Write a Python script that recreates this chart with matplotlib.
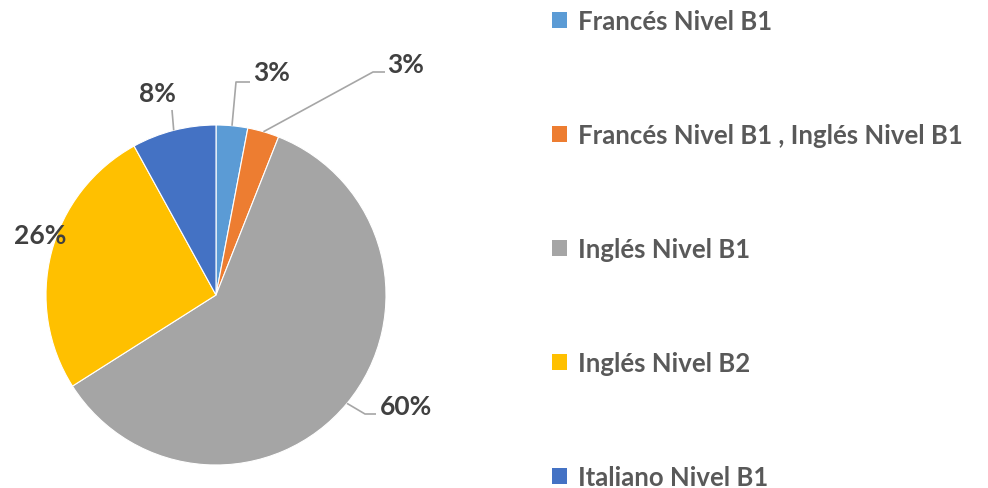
import numpy as np
import matplotlib.pyplot as plt
from matplotlib.patches import Patch

# Idiomas acreditados
labels = ['Francés Nivel B1', 'Francés Nivel B1 , Inglés Nivel B1',
          'Inglés Nivel B1', 'Inglés Nivel B2', 'Italiano Nivel B1']
values = [3, 3, 60, 26, 8]
pct_text = ['3%', '3%', '60%', '26%', '8%']
colors = ['#5B9BD5', '#ED7D31', '#A5A5A5', '#FFC000', '#4472C4']

W, H = 988, 489
CX, CY, R = 216, H - 296, 170

plt.rcParams['font.family'] = ['Lato', 'DejaVu Sans']

fig = plt.figure(figsize=(W / 100, H / 100), dpi=100)
ax = fig.add_axes([0, 0, 1, 1])

wedges, _ = ax.pie(values, colors=colors, startangle=90, counterclock=False,
                   center=(CX, CY), radius=R, frame=True,
                   wedgeprops=dict(linewidth=0.8, edgecolor='white'))
ax.set_xlim(0, W)
ax.set_ylim(0, H)
ax.set_aspect('equal')
ax.axis('off')

# label placement (pixel layout, y from top) and leader line elbows
text_pos = [(272, 73), (406, 65), (406, 407), (40, 236), (157, 94)]
elbows = [[(236, 83), (250, 83)],
          [(373, 73), (385, 73)],
          [(365, 415), (376, 415)],
          None,
          [(172, 111)]]

lc = '#A6A6A6'
for w, txt, (tx, ty), elb in zip(wedges, pct_text, text_pos, elbows):
    ang = np.deg2rad((w.theta1 + w.theta2) / 2)
    if elb is not None:
        x0 = CX + R * np.cos(ang)
        y0 = CY + R * np.sin(ang)
        xs = [x0] + [p[0] for p in elb]
        ys = [y0] + [H - p[1] for p in elb]
        ax.plot(xs, ys, color=lc, lw=1.2, solid_capstyle='butt')
    ax.text(tx, H - ty, txt, ha='center', va='center', fontsize=19,
            fontweight='bold', color='#404040')

handles = [Patch(facecolor=c, edgecolor='none') for c in colors]
fig.legend(handles, labels, loc='upper left', bbox_to_anchor=(552 / W, 1 - 10 / H),
           frameon=False, labelspacing=3.5, handlelength=0.6,
           handleheight=0.6, handletextpad=0.43, borderpad=0, borderaxespad=0,
           labelcolor='#595959', prop=dict(weight='bold', size=18.5))

fig.savefig('out.png', dpi=100)
